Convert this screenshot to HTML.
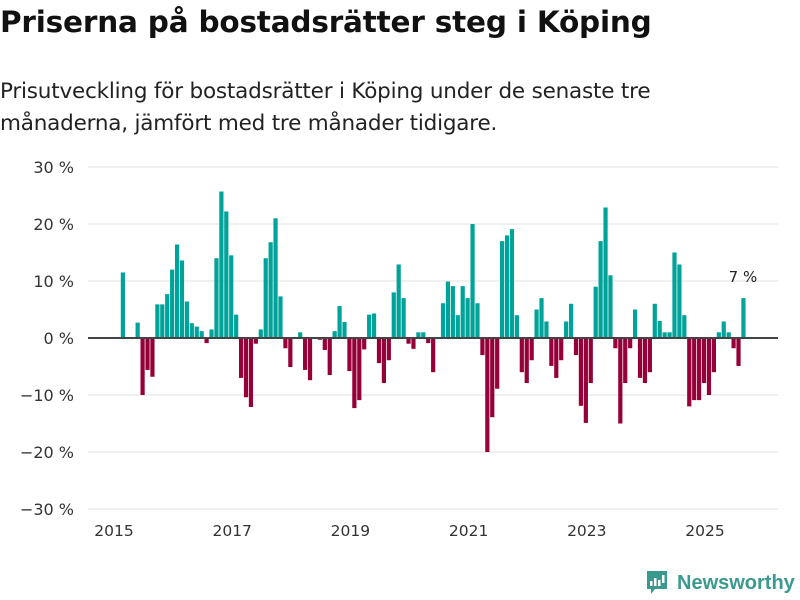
<!DOCTYPE html>
<html><head><meta charset="utf-8">
<style>
body{margin:0;width:800px;height:600px;background:#fff;font-family:"Liberation Sans",sans-serif;overflow:hidden;position:relative;color:#111}
#title{position:absolute;left:0;top:5px;font-size:29.5px;font-family:"DejaVu Sans",sans-serif;font-weight:bold;letter-spacing:-0.2px;margin:0;white-space:nowrap}
#sub{position:absolute;left:0;top:76px;font-size:21.5px;font-family:"DejaVu Sans",sans-serif;line-height:32px;color:#222;width:790px;letter-spacing:-0.2px}
svg{position:absolute;left:0;top:0}
</style></head><body>
<h1 id="title">Priserna på bostadsrätter steg i Köping</h1>
<div id="sub">Prisutveckling för bostadsrätter i Köping under de senaste tre<br>månaderna, jämfört med tre månader tidigare.</div>
<svg id="chart" width="800" height="600"></svg>
<div style="position:absolute;left:645px;top:570px;height:26px;display:flex;align-items:center">
<svg width="24" height="28" style="position:static"><path d="M2 2h20v18h-12l-4 5v-5h-4z" fill="#3a9a8f"/><rect x="5" y="12" width="2.5" height="5" fill="#fff"/><rect x="9" y="9" width="2.5" height="8" fill="#fff"/><rect x="13" y="11" width="2.5" height="6" fill="#fff"/><rect x="17" y="6" width="2.5" height="8" fill="#fff"/></svg>
<span style="color:#3a9a8f;font-size:20px;font-weight:bold;margin-left:8px">Newsworthy</span></div>
<script>
const yTicks=[30,20,10,0,-10,-20,-30];
const yearLabels=[2015,2017,2019,2021,2023,2025];
const values=[11.5,0,0,2.7,-10,-5.6,-6.8,5.9,5.9,7.7,12,16.4,13.6,6.4,2.6,2.0,1.2,-0.9,1.5,14,25.7,22.2,14.5,4.1,-7,-10.4,-12.1,-1,1.5,14,16.8,21,7.3,-1.8,-5.1,0,1.0,-5.6,-7.4,0,-0.3,
-2.1,-6.5,1.2,5.6,2.8,-5.8,-12.3,-10.9,-2,4.1,4.3,-4.4,-7.9,-3.9,8,12.9,7,-1,-1.9,1,1,-0.9,-6,0,6.1,9.9,9.1,4,9.1,7,20,6.1,-3,-20,-13.9,-8.9,17,18,19.1,4,-6,-7.9,-3.9,5,
7,2.9,-4.9,-7,-3.9,2.9,6,-3,-11.9,-14.9,-7.9,9,17,22.9,11,-1.8,-15,-7.9,-1.8,5,-7,-7.9,-6,6,3,1,1,15,12.9,4,-12,-10.9,-10.9,-7.9,-10,-6,1,2.9,1,-1.8,-4.9,7];
const startMonth=1; // Feb 2015, months since Jan 2015
const lastLabel="7 %";
const NS="http://www.w3.org/2000/svg";
const svg=document.getElementById('chart');
function y(v){return 338-v*5.7;}
function x(m){return 115+m*4.925;}
function mk(t,a){const e=document.createElementNS(NS,t);for(const k in a)e.setAttribute(k,a[k]);svg.appendChild(e);return e;}
yTicks.forEach(v=>{
  const l=mk('line',{x1:88,x2:778,y1:y(v),y2:y(v),stroke:'#e2e2e2','stroke-width':1});
  
  
  const t=mk('text',{x:74,y:y(v)+6,'text-anchor':'end','font-size':16,fill:'#333','font-family':'DejaVu Sans, sans-serif'});
  t.textContent=(v<0?'\u2212'+(-v):v)+' %';
  
  
});
yearLabels.forEach(yr=>{
  const t=mk('text',{x:x((yr-2015)*12)-1,y:536,'text-anchor':'middle','font-size':15.5,fill:'#333','font-family':'DejaVu Sans, sans-serif'});
  t.textContent=yr;
  
  
});
values.forEach((v,i)=>{
  const cx=x(startMonth+i+0.5)+0.5;
  const r=mk('rect',{x:cx-2.1,width:4.2,y:Math.min(y(v),y(0)),height:Math.abs(y(v)-y(0)),fill:v>=0?'#00a39a':'#960039'});
  
  
});
const z=mk('line',{x1:88,x2:778,y1:y(0),y2:y(0),stroke:'#444','stroke-width':2});


const li=values.length-1;
const lt=mk('text',{x:x(startMonth+li+0.5),y:y(values[li])-16,'text-anchor':'middle','font-size':15,fill:'#222','font-family':'DejaVu Sans, sans-serif'});
lt.textContent=lastLabel;


</script>
</body></html>
